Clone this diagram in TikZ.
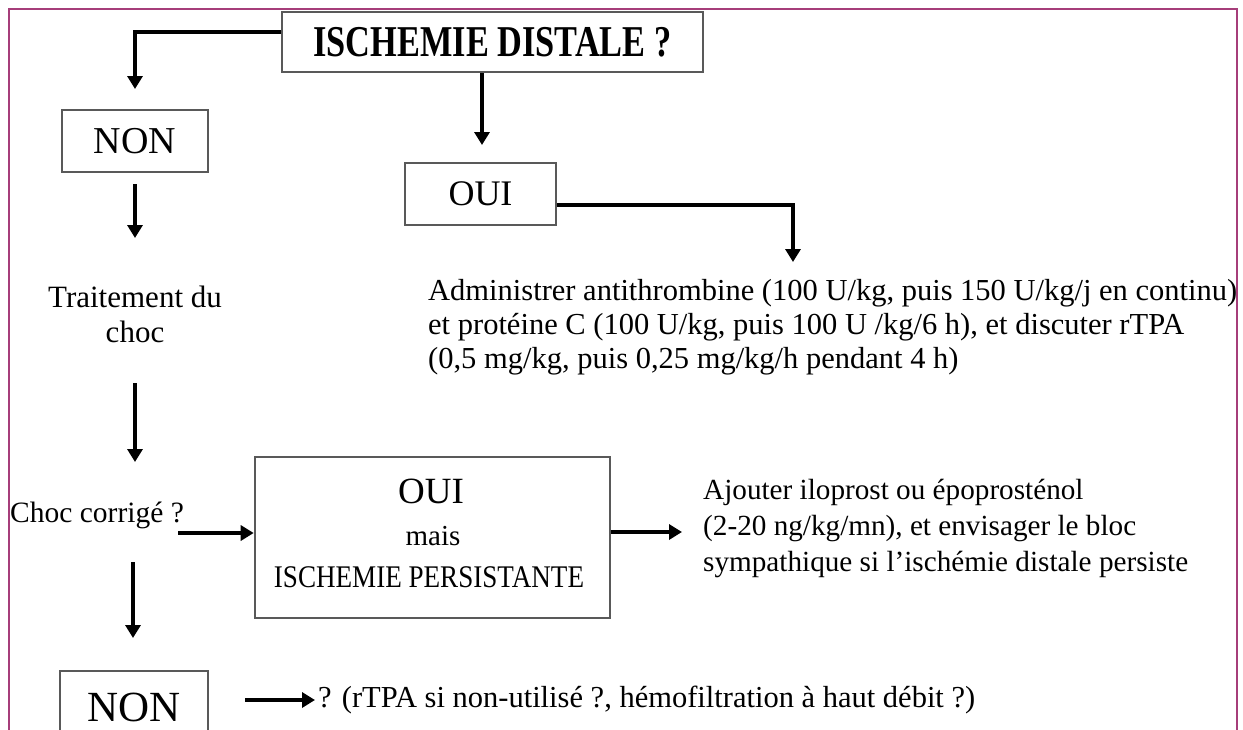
\documentclass[tikz,border=0pt]{standalone}
\usepackage{fontspec}
\setmainfont{Liberation Serif}
\usepackage{graphicx}
\usetikzlibrary{arrows.meta}
\definecolor{framec}{RGB}{166,62,122}
\begin{document}
\begin{tikzpicture}[x=1pt,y=-1pt,
  box/.style={draw=black!65, line width=2.6pt, inner sep=0pt},
  conn/.style={line width=4.2pt, black, -{Triangle[width=15pt,length=13pt]}},
  body/.style={font=\fontsize{30.5}{34}\selectfont, inner sep=0pt},
  lab/.style={font=\fontsize{38}{38}\selectfont}]
\useasboundingbox (0,0) rectangle (1243,729);
\clip (0,0) rectangle (1243,729);
\draw[framec, line width=2.5pt] (9,760) -- (9,9) -- (1237,9) -- (1237,760);

% boxes and texts
\node[box, minimum width=421, minimum height=60] (title) at (492.5,42)
  {\scalebox{0.78}[1]{\fontsize{44}{44}\selectfont\bfseries ISCHEMIE DISTALE ?}};
\node[box, lab, minimum width=146, minimum height=62] (non1) at (135,141) {NON};
\node[box, lab, font=\fontsize{36}{36}\selectfont, minimum width=151, minimum height=62] (oui1) at (480.5,194) {OUI};
\node[body, font=\fontsize{31}{35}\selectfont, align=center] (trait) at (135,314) {Traitement du\\choc};
\node[body, align=left, anchor=west] (admin) at (428,327)
  {Administrer antithrombine (100 U/kg, puis 150 U/kg/j en continu)\\
   et protéine C (100 U/kg, puis 100 U /kg/6 h), et discuter rTPA\\
   (0,5 mg/kg, puis 0,25 mg/kg/h pendant 4 h)};
\node[body, font=\fontsize{29.5}{34}\selectfont, anchor=west] (choc) at (10,515) {Choc corrigé ?};
\node[box, minimum width=355, minimum height=161] (oui2) at (432.5,537.5) {};
\node[font=\fontsize{37}{37}\selectfont] (oui2a) at (431,491.5) {OUI};
\node[font=\fontsize{29}{29}\selectfont] (oui2b) at (433,536) {mais};
\node (oui2c) at (429,577)
  {\scalebox{0.86}[1]{\fontsize{31.5}{31.5}\selectfont ISCHEMIE PERSISTANTE}};
\node[body, font=\fontsize{29.2}{36}\selectfont, align=left, anchor=west] (ajout) at (703,528)
  {Ajouter iloprost ou époprosténol\\
   (2-20 ng/kg/mn), et envisager le bloc\\
   sympathique si l'ischémie distale persiste};
\node[box, font=\fontsize{43}{43}\selectfont, minimum width=148, minimum height=72] (non2) at (134,707) {NON};
\node[body, anchor=west] (final) at (318,700)
  {? (rTPA si non-utilisé ?, hémofiltration à haut débit ?)};

% free ends
\coordinate (t1) at (135,89);
\coordinate (t2) at (482,145);
\coordinate (t3) at (793,262);
\coordinate (t4) at (135,238);
\coordinate (s5) at (135,383);
\coordinate (t5) at (135,462);
\coordinate (s6) at (178,533);
\coordinate (t7) at (682,532);
\coordinate (s8) at (133,562);
\coordinate (t8) at (133,638);
\coordinate (s9) at (245,700);
\coordinate (t9) at (315,700);

% connectors
\draw[conn] ([yshift=10pt]title.west) -| (t1);
\draw[conn] (title.south -| t2) -- (t2);
\draw[conn] ([yshift=-11pt]oui1.east) -| (t3);
\draw[conn] ([yshift=-11pt]non1.south) -- (t4);
\draw[conn] (s5) -- (t5);
\draw[conn] (s6) -- (oui2.west |- s6);
\draw[conn] (oui2.east |- t7) -- (t7);
\draw[conn] (s8) -- (t8);
\draw[conn] (s9) -- (t9);
\end{tikzpicture}
\end{document}
